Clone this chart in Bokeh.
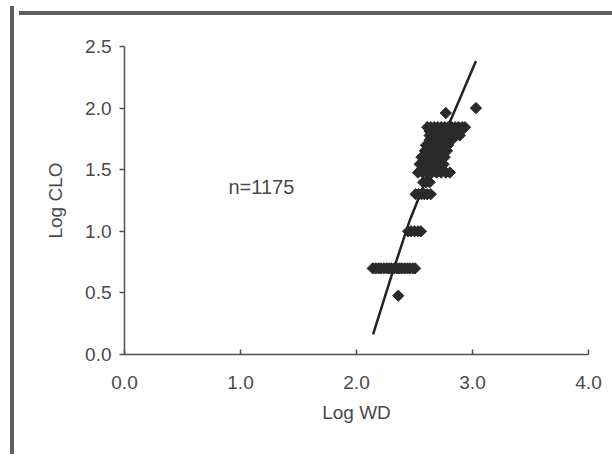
from bokeh.plotting import figure
from bokeh.models import Range1d, Label, FixedTicker, NumeralTickFormatter, Div, Column
from bokeh.embed import file_html
from bokeh.resources import INLINE

# ---- data (log10 values) ----
clo_0477 = [2.36]
clo_0699 = [2.14, 2.165, 2.19, 2.21, 2.235, 2.26, 2.28, 2.30, 2.325, 2.35, 2.37, 2.39, 2.415, 2.44, 2.46, 2.485, 2.505]
clo_1000 = [2.445, 2.47, 2.50, 2.53, 2.555]
clo_1301 = [2.51, 2.535, 2.56, 2.585, 2.61, 2.64]
clo_1398 = [2.575, 2.60, 2.63]
clo_1477 = [2.53, 2.57, 2.61, 2.65, 2.69, 2.73, 2.77, 2.805]
clo_1544 = [2.545, 2.59, 2.63, 2.67, 2.71, 2.75]
clo_1602 = [2.56, 2.60, 2.64, 2.68, 2.72, 2.76]
clo_1653 = [2.59, 2.63, 2.67, 2.71, 2.75, 2.78]
clo_1699 = [2.60, 2.64, 2.68, 2.72, 2.76, 2.79]
clo_1740 = [2.63, 2.67, 2.71, 2.75, 2.79, 2.82]
clo_1778 = [2.63, 2.66, 2.70, 2.74, 2.78, 2.82, 2.86, 2.89]
clo_1813 = [2.63, 2.68, 2.72, 2.77, 2.82, 2.87, 2.90]
clo_1845 = [2.61, 2.64, 2.67, 2.70, 2.73, 2.76, 2.79, 2.82, 2.85, 2.88, 2.91, 2.935]
clo_1960 = [2.77]
clo_2000 = [3.03]

levels = [0.477, 0.699, 1.0, 1.301, 1.398, 1.477, 1.544, 1.602, 1.653, 1.699,
          1.740, 1.778, 1.813, 1.845, 1.960, 2.0]
wd_lists = [clo_0477, clo_0699, clo_1000, clo_1301, clo_1398, clo_1477, clo_1544,
            clo_1602, clo_1653, clo_1699, clo_1740, clo_1778, clo_1813, clo_1845,
            clo_1960, clo_2000]

# fitted curve
fit_x = [2.143, 2.30, 2.458, 2.72, 3.03]
fit_y = [0.163, 0.634, 1.086, 1.70, 2.383]

x_ticks = [0.0, 1.0, 2.0, 3.0, 4.0]
y_ticks = [0.0, 0.5, 1.0, 1.5, 2.0, 2.5]
n_label = "n=1175"

xs, ys = [], []
for lv, lst in zip(levels, wd_lists):
    for v in lst:
        xs.append(v)
        ys.append(lv)

FONT = "Liberation Sans"
TXT = "#4a4a4a"
AX = "#505050"
BORDER = "#5e5e5e"

p = figure(width=596, height=434, output_backend="svg", toolbar_location=None,
           x_range=Range1d(0, 4), y_range=Range1d(0, 2.5),
           min_border_left=110, min_border_right=22, min_border_top=26, min_border_bottom=100,
           background_fill_color="white", border_fill_color="white")
p.outline_line_color = None
p.grid.visible = False

p.line(fit_x, fit_y, line_color="#222222", line_width=2.5)
p.scatter(xs, ys, marker="square", size=8, angle=0.785398,
          fill_color="#2a2a2a", line_color="#2a2a2a", line_width=1)

for ax in (p.xaxis[0], p.yaxis[0]):
    ax.axis_line_color = AX
    ax.axis_line_width = 1.5
    ax.major_tick_line_color = AX
    ax.major_tick_line_width = 1.5
    ax.minor_tick_line_color = None
    ax.major_label_text_font = FONT
    ax.major_label_text_font_size = "19px"
    ax.major_label_text_color = TXT
    ax.axis_label_text_font = FONT
    ax.axis_label_text_font_size = "19px"
    ax.axis_label_text_font_style = "normal"
    ax.axis_label_text_color = TXT
    ax.formatter = NumeralTickFormatter(format="0.0")

p.xaxis.ticker = FixedTicker(ticks=x_ticks)
p.yaxis.ticker = FixedTicker(ticks=y_ticks)
p.xaxis.major_tick_in = 5
p.xaxis.major_tick_out = 0
p.yaxis.major_tick_in = 0
p.yaxis.major_tick_out = 5
p.xaxis.major_label_standoff = 21
p.yaxis.major_label_standoff = 8
p.xaxis.axis_label = "Log WD"
p.yaxis.axis_label = "Log CLO"
p.xaxis.axis_label_standoff = 10
p.yaxis.axis_label_standoff = 16

p.add_layout(Label(x=1.18, y=1.36, text=n_label, text_align="center", text_baseline="alphabetic",
                   text_font=FONT, text_font_size="20px", text_color=TXT))

top_edge = Div(text="", width=596, height=4, styles={"background-color": BORDER})
root = Column(children=[top_edge, p], spacing=0,
              styles={"margin-left": "10px", "margin-top": "6px",
                      "border-left": "4px solid " + BORDER})

open("out.html", "w").write(file_html(root, INLINE))
